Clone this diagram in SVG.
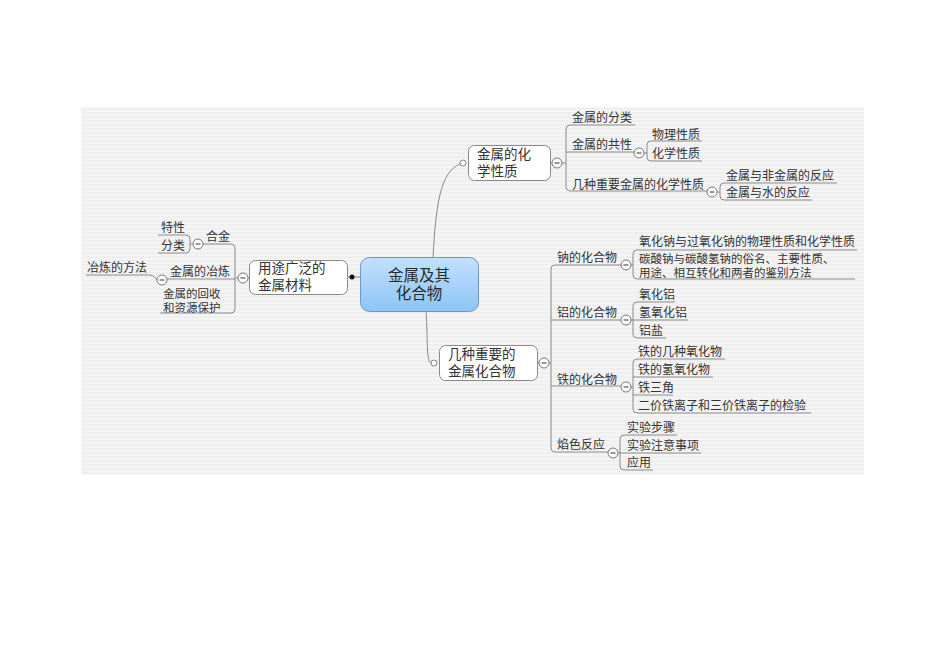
<svg xmlns="http://www.w3.org/2000/svg" width="950" height="672" viewBox="0 0 950 672">
<defs>
<pattern id="stripes" patternUnits="userSpaceOnUse" width="10" height="4">
<rect width="10" height="4" fill="#f4f4f4"/>
<rect width="10" height="2" fill="#efefef"/>
</pattern>
<linearGradient id="cg" x1="0" y1="0" x2="0" y2="1">
<stop offset="0" stop-color="#c2e1fd"/>
<stop offset="1" stop-color="#8dc4f5"/>
</linearGradient>
</defs>
<style>
text{font-family:"Noto Sans CJK SC","Noto Sans",sans-serif;fill:#333;}
.t{font-size:12px;}
.t2{font-size:11.5px;}
.n{font-size:13.5px;}
.c{font-size:15.5px;fill:#2a2a2a;}
.box{fill:#fff;stroke:#8a8a8a;stroke-width:1;}
.ln{fill:none;stroke:#8a8a8a;stroke-width:1;}
.col circle{fill:#fff;stroke:#777;stroke-width:1;}
.col line{stroke:#555;stroke-width:1.2;}
.hc{fill:#fff;stroke:#888;stroke-width:1;}
</style>
<rect x="81" y="107" width="783" height="368" fill="url(#stripes)"/>

<g id="connectors" class="ln">
<path d="M348,277 H360"/>
<path d="M433,257 C436,205 440,172 460,164"/>
<path d="M426,311 C428,340 426,360 431,363"/>
<path d="M551,163 H552"/>
<path d="M562,163 H566"/>
<path d="M570,125 Q566,125 566,129 V187 Q566,191 570,191"/>
<path d="M570,125 H635"/>
<path d="M566,152 H634"/>
<path d="M570,191 H707"/>
<path d="M644,153 H647"/>
<path d="M651,141 Q647,141 647,145 V157 Q647,161 651,161"/>
<path d="M651,141 H702"/>
<path d="M651,161 H702"/>
<path d="M717,192 H720"/>
<path d="M724,183 Q720,183 720,187 V196 Q720,200 724,200"/>
<path d="M724,183 H837"/>
<path d="M724,200 H812"/>
<path d="M538,363 H539"/>
<path d="M549,363 H551"/>
<path d="M555,265 Q551,265 551,269 V448 Q551,452 555,452"/>
<path d="M555,265 H621"/>
<path d="M551,320 H621"/>
<path d="M551,386 H621"/>
<path d="M555,452 H608"/>
<path d="M631,265 H633"/>
<path d="M637,250 Q633,250 633,254 V275 Q633,279 637,279"/>
<path d="M637,250 H857"/>
<path d="M637,279 H855"/>
<path d="M631,320 H633"/>
<path d="M637,302 Q633,302 633,306 V334 Q633,338 637,338"/>
<path d="M637,302 H675"/>
<path d="M633,320 H688"/>
<path d="M637,338 H666"/>
<path d="M631,387 H633"/>
<path d="M637,359 Q633,359 633,363 V409 Q633,413 637,413"/>
<path d="M637,359 H725"/>
<path d="M633,377 H713"/>
<path d="M633,395 H673"/>
<path d="M637,413 H811"/>
<path d="M618,453 H620"/>
<path d="M624,435 Q620,435 620,439 V466 Q620,470 624,470"/>
<path d="M624,435 H677"/>
<path d="M620,453 H701"/>
<path d="M624,470 H653"/>
<path d="M248,278 H249"/>
<path d="M238,278 H235"/>
<path d="M231,244 Q235,244 235,248 V309 Q235,313 231,313"/>
<path d="M203,244 H231"/>
<path d="M167,279 H235"/>
<path d="M160,313 H231"/>
<path d="M193,244 H190"/>
<path d="M186,235 Q190,235 190,239 V249 Q190,253 186,253"/>
<path d="M158,235 H186"/>
<path d="M158,253 H186"/>
<path d="M86,275 H150 Q154,275 157,280"/>
</g>

<g id="central">
<rect x="360.5" y="257.5" width="118" height="54" rx="9" fill="url(#cg)" stroke="#7197c2"/>
<text class="c" x="419" y="281" text-anchor="middle">金属及其</text>
<text class="c" x="419" y="299" text-anchor="middle">化合物</text>
<circle cx="352" cy="277" r="2.5" fill="#111"/>
</g>

<g id="n-yongtu">
<rect class="box" x="249.5" y="260.5" width="98" height="34" rx="6"/>
<text class="n" x="258" y="273">用途广泛的</text>
<text class="n" x="258" y="290">金属材料</text>
<g class="col"><circle cx="243" cy="278" r="5"/><line x1="240.5" y1="278" x2="245.5" y2="278"/></g>
</g>

<g id="n-hejin">
<text class="t" x="206" y="241">合金</text>
<g class="col"><circle cx="198" cy="244" r="5"/><line x1="195.5" y1="244" x2="200.5" y2="244"/></g>
</g>
<g id="n-texing"><text class="t" x="161" y="232">特性</text></g>
<g id="n-fenlei"><text class="t" x="161" y="250">分类</text></g>
<g id="n-yelian">
<text class="t" x="170" y="276">金属的冶炼</text>
<g class="col"><circle cx="162" cy="280" r="5"/><line x1="159.5" y1="280" x2="164.5" y2="280"/></g>
</g>
<g id="n-yelianfangfa"><text class="t" x="87" y="272">冶炼的方法</text></g>
<g id="n-huishou">
<text class="t2" x="163" y="298">金属的回收</text>
<text class="t2" x="163" y="311.5">和资源保护</text>
</g>

<g id="n-huaxue">
<rect class="box" x="468.5" y="145.5" width="82" height="35" rx="6"/>
<text class="n" x="477" y="159">金属的化</text>
<text class="n" x="477" y="176">学性质</text>
<circle class="hc" cx="463" cy="163" r="3"/>
<g class="col"><circle cx="557" cy="163" r="5"/><line x1="554.5" y1="163" x2="559.5" y2="163"/></g>
</g>
<g id="n-fenlei2"><text class="t" x="572" y="122">金属的分类</text></g>
<g id="n-gongxing">
<text class="t" x="572" y="149">金属的共性</text>
<g class="col"><circle cx="639" cy="153" r="5"/><line x1="636.5" y1="153" x2="641.5" y2="153"/></g>
</g>
<g id="n-wuli"><text class="t" x="652" y="139">物理性质</text></g>
<g id="n-huaxuexz"><text class="t" x="652" y="158">化学性质</text></g>
<g id="n-jizhong">
<text class="t" x="572" y="189">几种重要金属的化学性质</text>
<g class="col"><circle cx="712" cy="192" r="5"/><line x1="709.5" y1="192" x2="714.5" y2="192"/></g>
</g>
<g id="n-feijinshu"><text class="t" x="726" y="180">金属与非金属的反应</text></g>
<g id="n-shui"><text class="t" x="726" y="197">金属与水的反应</text></g>

<g id="n-huahewu">
<rect class="box" x="439.5" y="345.5" width="98" height="35" rx="6"/>
<text class="n" x="448" y="359">几种重要的</text>
<text class="n" x="448" y="376">金属化合物</text>
<circle class="hc" cx="434" cy="363" r="3"/>
<g class="col"><circle cx="544" cy="363" r="5"/><line x1="541.5" y1="363" x2="546.5" y2="363"/></g>
</g>
<g id="n-na">
<text class="t" x="557" y="262">钠的化合物</text>
<g class="col"><circle cx="626" cy="265" r="5"/><line x1="623.5" y1="265" x2="628.5" y2="265"/></g>
</g>
<g id="n-na1"><text class="t" x="639" y="246">氧化钠与过氧化钠的物理性质和化学性质</text></g>
<g id="n-na2">
<text class="t2" x="639" y="263">碳酸钠与碳酸氢钠的俗名、主要性质、</text>
<text class="t2" x="639" y="276.5">用途、相互转化和两者的鉴别方法</text>
</g>
<g id="n-al">
<text class="t" x="557" y="317">铝的化合物</text>
<g class="col"><circle cx="626" cy="320" r="5"/><line x1="623.5" y1="320" x2="628.5" y2="320"/></g>
</g>
<g id="n-al1"><text class="t" x="639" y="299">氧化铝</text></g>
<g id="n-al2"><text class="t" x="639" y="317">氢氧化铝</text></g>
<g id="n-al3"><text class="t" x="639" y="335">铝盐</text></g>
<g id="n-fe">
<text class="t" x="557" y="384">铁的化合物</text>
<g class="col"><circle cx="626" cy="387" r="5"/><line x1="623.5" y1="387" x2="628.5" y2="387"/></g>
</g>
<g id="n-fe1"><text class="t" x="638" y="356">铁的几种氧化物</text></g>
<g id="n-fe2"><text class="t" x="638" y="374">铁的氢氧化物</text></g>
<g id="n-fe3"><text class="t" x="638" y="392">铁三角</text></g>
<g id="n-fe4"><text class="t" x="638" y="410">二价铁离子和三价铁离子的检验</text></g>
<g id="n-yanse">
<text class="t" x="557" y="449">焰色反应</text>
<g class="col"><circle cx="613" cy="453" r="5"/><line x1="610.5" y1="453" x2="615.5" y2="453"/></g>
</g>
<g id="n-ys1"><text class="t" x="627" y="432">实验步骤</text></g>
<g id="n-ys2"><text class="t" x="627" y="450">实验注意事项</text></g>
<g id="n-ys3"><text class="t" x="627" y="467">应用</text></g>
</svg>
